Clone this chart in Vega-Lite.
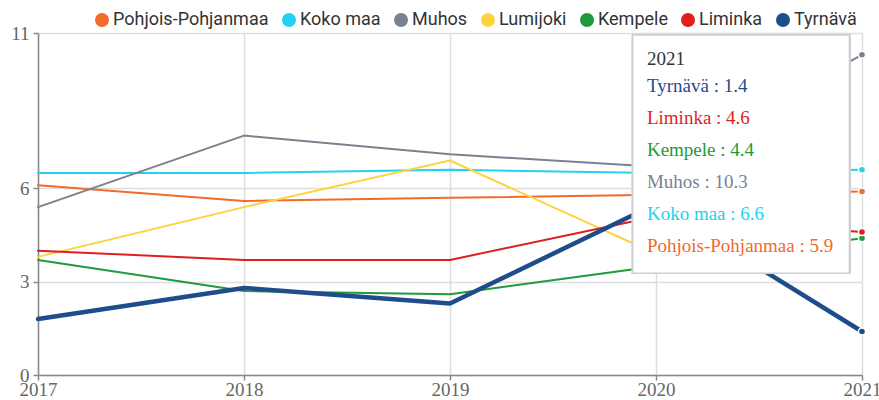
{
  "$schema": "https://vega.github.io/schema/vega-lite/v6.json",
  "width": 824,
  "height": 342,
  "autosize": "none",
  "padding": {"left": 38, "top": 33, "right": 17, "bottom": 25},
  "background": "white",
  "config": {
    "view": {"stroke": null},
    "axis": {
      "labelFont": "Liberation Serif",
      "labelFontSize": 19,
      "labelColor": "#666",
      "domainColor": "#888",
      "domainWidth": 1.5,
      "tickColor": "#888",
      "tickWidth": 1.5,
      "tickSize": 5,
      "gridColor": "#ddd",
      "gridWidth": 1.5,
      "title": null
    }
  },
  "datasets": {
    "series": [
      {"area": "Pohjois-Pohjanmaa", "year": 2017, "value": 6.1},
      {"area": "Pohjois-Pohjanmaa", "year": 2018, "value": 5.6},
      {"area": "Pohjois-Pohjanmaa", "year": 2019, "value": 5.7},
      {"area": "Pohjois-Pohjanmaa", "year": 2020, "value": 5.8},
      {"area": "Pohjois-Pohjanmaa", "year": 2021, "value": 5.9},
      {"area": "Koko maa", "year": 2017, "value": 6.5},
      {"area": "Koko maa", "year": 2018, "value": 6.5},
      {"area": "Koko maa", "year": 2019, "value": 6.6},
      {"area": "Koko maa", "year": 2020, "value": 6.5},
      {"area": "Koko maa", "year": 2021, "value": 6.6},
      {"area": "Muhos", "year": 2017, "value": 5.4},
      {"area": "Muhos", "year": 2018, "value": 7.7},
      {"area": "Muhos", "year": 2019, "value": 7.1},
      {"area": "Muhos", "year": 2020, "value": 6.7},
      {"area": "Muhos", "year": 2021, "value": 10.3},
      {"area": "Lumijoki", "year": 2017, "value": 3.8},
      {"area": "Lumijoki", "year": 2018, "value": 5.4},
      {"area": "Lumijoki", "year": 2019, "value": 6.9},
      {"area": "Lumijoki", "year": 2020, "value": 3.9},
      {"area": "Kempele", "year": 2017, "value": 3.7},
      {"area": "Kempele", "year": 2018, "value": 2.7},
      {"area": "Kempele", "year": 2019, "value": 2.6},
      {"area": "Kempele", "year": 2020, "value": 3.5},
      {"area": "Kempele", "year": 2021, "value": 4.4},
      {"area": "Liminka", "year": 2017, "value": 4.0},
      {"area": "Liminka", "year": 2018, "value": 3.7},
      {"area": "Liminka", "year": 2019, "value": 3.7},
      {"area": "Liminka", "year": 2020, "value": 5.1},
      {"area": "Liminka", "year": 2021, "value": 4.6},
      {"area": "Tyrnävä", "year": 2017, "value": 1.8},
      {"area": "Tyrnävä", "year": 2018, "value": 2.8},
      {"area": "Tyrnävä", "year": 2019, "value": 2.3},
      {"area": "Tyrnävä", "year": 2020, "value": 5.5},
      {"area": "Tyrnävä", "year": 2021, "value": 1.4}
    ],
    "tip": [
      {"rank": 0, "label": "2021", "area": "header"},
      {"rank": 1, "label": "Tyrnävä : 1.4", "area": "Tyrnävä"},
      {"rank": 2, "label": "Liminka : 4.6", "area": "Liminka"},
      {"rank": 3, "label": "Kempele : 4.4", "area": "Kempele"},
      {"rank": 4, "label": "Muhos : 10.3", "area": "Muhos"},
      {"rank": 5, "label": "Koko maa : 6.6", "area": "Koko maa"},
      {"rank": 6, "label": "Pohjois-Pohjanmaa : 5.9", "area": "Pohjois-Pohjanmaa"}
    ]
  },
  "layer": [
    {
      "data": {"name": "series"},
      "layer": [
        {
          "mark": {"type": "line", "strokeCap": "round", "strokeJoin": "round"},
          "encoding": {
            "x": {
              "field": "year", "type": "quantitative",
              "scale": {"domain": [2017, 2021], "nice": false, "zero": false},
              "axis": {"values": [2017, 2018, 2019, 2020, 2021], "format": "d", "labelFlush": false, "grid": true, "labelPadding": 0}
            },
            "y": {
              "field": "value", "type": "quantitative",
              "scale": {"domain": [0, 11], "nice": false},
              "axis": {"values": [0, 3, 6, 11], "grid": true, "labelPadding": 4}
            },
            "color": {
              "field": "area", "type": "nominal",
              "scale": {
                "domain": ["Pohjois-Pohjanmaa", "Koko maa", "Muhos", "Lumijoki", "Kempele", "Liminka", "Tyrnävä"],
                "range": ["#f26a2c", "#22d0f0", "#7a8290", "#fdd341", "#1f9a3c", "#e01e1e", "#1f4c8b"]
              },
              "legend": {
                "orient": "none",
                "direction": "horizontal",
                "legendX": 55,
                "legendY": -22,
                "title": null,
                "symbolType": "circle",
                "symbolSize": 196,
                "symbolStrokeWidth": 0,
                "symbolOpacity": 1,
                "labelFont": "Roboto",
                "labelFontSize": 18,
                "labelColor": "#333",
                "labelOffset": 2,
                "columnPadding": 11,
                "encode": {"symbols": {"update": {"fill": {"scale": "color", "field": "value"}, "opacity": {"value": 1}}}}
              }
            },
            "strokeWidth": {"condition": {"test": "datum.area === 'Tyrnävä'", "value": 4.5}, "value": 2}
          }
        },
        {
          "transform": [{"filter": "datum.year === 2021"}],
          "mark": {"type": "point", "filled": true, "size": 50, "stroke": "white", "strokeWidth": 1.5, "opacity": 1},
          "encoding": {
            "x": {"field": "year", "type": "quantitative"},
            "y": {"field": "value", "type": "quantitative"},
            "color": {"field": "area", "type": "nominal"}
          }
        },
        {
          "mark": {"type": "rect", "fill": "white", "stroke": "#cfcfcf", "strokeWidth": 1.5},
          "encoding": {
            "x": {"datum": 2019.887},
            "x2": {"datum": 2020.939},
            "y": {"datum": 10.936},
            "y2": {"datum": 3.27}
          }
        }
      ]
    },
    {
      "data": {"name": "tip"},
      "layer": [
        {
          "transform": [{"filter": "datum.rank === 0"}],
          "mark": {"type": "text", "align": "left", "baseline": "middle", "font": "Liberation Serif", "fontSize": 19, "color": "#333", "dy": 5.5},
          "encoding": {
            "x": {"datum": 2019.956},
            "y": {"field": "rank", "type": "quantitative", "scale": {"domain": [-0.6469, 10.0406], "nice": false, "zero": false, "reverse": true}, "axis": null},
            "text": {"field": "label"}
          }
        },
        {
          "transform": [{"filter": "datum.rank > 0"}],
          "mark": {"type": "text", "align": "left", "baseline": "middle", "font": "Liberation Serif", "fontSize": 19},
          "encoding": {
            "x": {"datum": 2019.956},
            "y": {"field": "rank", "type": "quantitative", "axis": null},
            "text": {"field": "label"},
            "color": {"field": "area", "type": "nominal"}
          }
        }
      ]
    }
  ],
  "resolve": {"scale": {"y": "independent"}, "axis": {"y": "independent"}}
}
